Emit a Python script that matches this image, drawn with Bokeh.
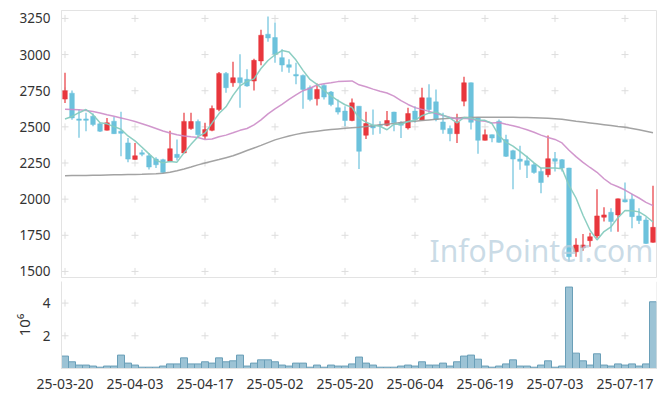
from bokeh.plotting import figure
from bokeh.layouts import column
from bokeh.models import Range1d, FixedTicker, ColumnDataSource, Label, Span
from bokeh.embed import file_html
from bokeh.resources import INLINE

dates = ["25-03-20", "25-03-21", "25-03-24", "25-03-25", "25-03-26", "25-03-27", "25-03-28", "25-03-31",
         "25-04-01", "25-04-02", "25-04-03", "25-04-04", "25-04-07", "25-04-08", "25-04-09", "25-04-10",
         "25-04-11", "25-04-14", "25-04-15", "25-04-16", "25-04-17", "25-04-18", "25-04-21", "25-04-22",
         "25-04-23", "25-04-24", "25-04-25", "25-04-28", "25-04-29", "25-04-30", "25-05-02", "25-05-07",
         "25-05-08", "25-05-09", "25-05-12", "25-05-13", "25-05-14", "25-05-15", "25-05-16", "25-05-19",
         "25-05-20", "25-05-21", "25-05-22", "25-05-23", "25-05-26", "25-05-27", "25-05-28", "25-05-29",
         "25-05-30", "25-06-02", "25-06-04", "25-06-05", "25-06-09", "25-06-10", "25-06-11", "25-06-12",
         "25-06-13", "25-06-16", "25-06-17", "25-06-18", "25-06-19", "25-06-20", "25-06-23", "25-06-24",
         "25-06-25", "25-06-26", "25-06-27", "25-06-30", "25-07-01", "25-07-02", "25-07-03", "25-07-04",
         "25-07-07", "25-07-08", "25-07-09", "25-07-10", "25-07-11", "25-07-14", "25-07-15", "25-07-16",
         "25-07-17", "25-07-18", "25-07-21", "25-07-22", "25-07-23"]

opens = [2692, 2733, 2555, 2555, 2574, 2521, 2477, 2539, 2470, 2389,
         2275, 2321, 2300, 2277, 2273, 2261, 2310, 2320, 2488, 2537,
         2435, 2476, 2620, 2870, 2805, 2840, 2829, 2817, 2956, 3141,
         3118, 2979, 2930, 2863, 2856, 2771, 2694, 2787, 2741, 2632,
         2609, 2544, 2643, 2442, 2511, 2512, 2511, 2602, 2528, 2493,
         2609, 2546, 2701, 2673, 2534, 2488, 2453, 2678, 2805, 2562,
         2407, 2446, 2539, 2412, 2335, 2277, 2266, 2238, 2192, 2169,
         2280, 2273, 2215, 1636, 1664, 1713, 1745, 1875, 1909, 1891,
         1995, 2000, 1884, 1856, 1701]
highs = [2875, 2752, 2620, 2597, 2592, 2530, 2562, 2569, 2604, 2423,
         2389, 2342, 2320, 2290, 2280, 2474, 2412, 2597, 2597, 2551,
         2528, 2648, 2880, 2880, 2950, 3002, 2898, 2972, 3171, 3264,
         3222, 3037, 2967, 2944, 2862, 2787, 2800, 2794, 2748, 2690,
         2643, 2697, 2645, 2604, 2620, 2539, 2609, 2604, 2539, 2632,
         2643, 2771, 2794, 2759, 2597, 2509, 2590, 2847, 2807, 2565,
         2481, 2448, 2551, 2446, 2342, 2370, 2301, 2250, 2215, 2440,
         2326, 2278, 2218, 1729, 1759, 1768, 2069, 1944, 1937, 2004,
         2115, 2037, 1937, 1875, 2092]
lows = [2665, 2550, 2425, 2470, 2505, 2465, 2475, 2450, 2296, 2255,
        2273, 2296, 2205, 2215, 2180, 2258, 2268, 2318, 2480, 2423,
        2416, 2470, 2608, 2736, 2778, 2632, 2778, 2752, 2926, 3088,
        2944, 2882, 2875, 2794, 2625, 2678, 2648, 2690, 2643, 2585,
        2504, 2539, 2208, 2416, 2446, 2453, 2504, 2470, 2423, 2481,
        2528, 2544, 2597, 2539, 2453, 2400, 2389, 2643, 2481, 2314,
        2405, 2393, 2390, 2292, 2069, 2203, 2146, 2176, 2041, 2152,
        2192, 2192, 1567, 1602, 1643, 1671, 1729, 1845, 1775, 1775,
        1979, 1798, 1828, 1690, 1699]
closes = [2750, 2562, 2545, 2545, 2516, 2470, 2528, 2453, 2455, 2277,
          2300, 2310, 2222, 2238, 2185, 2349, 2288, 2538, 2537, 2446,
          2481, 2627, 2870, 2771, 2840, 2805, 2783, 2960, 3134, 3115,
          3002, 2928, 2912, 2852, 2759, 2690, 2759, 2706, 2655, 2602,
          2544, 2666, 2331, 2523, 2493, 2508, 2544, 2528, 2511, 2592,
          2551, 2701, 2620, 2551, 2481, 2453, 2534, 2805, 2532, 2407,
          2446, 2423, 2393, 2296, 2277, 2262, 2234, 2185, 2115, 2280,
          2262, 2215, 1602, 1683, 1683, 1740, 1884, 1891, 1845, 2002,
          1981, 1879, 1852, 1694, 1805]
ma5 = [2555, 2572, 2598, 2620, 2584, 2528, 2521, 2502, 2484, 2437,
       2403, 2359, 2313, 2269, 2251, 2261, 2256, 2320, 2379, 2432,
       2458, 2526, 2592, 2639, 2718, 2783, 2814, 2832, 2904, 2959,
       2999, 3028, 3018, 2962, 2891, 2828, 2794, 2753, 2714, 2682,
       2653, 2635, 2560, 2533, 2511, 2504, 2480, 2519, 2517, 2537,
       2545, 2577, 2595, 2603, 2581, 2561, 2528, 2565, 2561, 2546,
       2545, 2523, 2440, 2393, 2367, 2330, 2292, 2251, 2215, 2215,
       2215, 2211, 2095, 2008, 1889, 1785, 1718, 1776, 1809, 1872,
       1921, 1920, 1912, 1882, 1842]
ma20 = [2622, 2620, 2618, 2614, 2606, 2596, 2584, 2573, 2562, 2550,
        2537, 2522, 2506, 2489, 2472, 2457, 2445, 2437, 2431, 2426,
        2412, 2416, 2432, 2443, 2459, 2476, 2489, 2514, 2548, 2590,
        2625, 2656, 2690, 2721, 2750, 2767, 2790, 2799, 2805, 2813,
        2816, 2818, 2791, 2778, 2761, 2746, 2734, 2713, 2681, 2655,
        2633, 2621, 2607, 2592, 2578, 2566, 2555, 2560, 2554, 2544,
        2539, 2527, 2530, 2518, 2508, 2495, 2480, 2463, 2443, 2427,
        2413, 2389, 2338, 2294, 2254, 2219, 2186, 2141, 2106, 2086,
        2063, 2035, 2008, 1978, 1955]
ma60 = [2162, 2163, 2163, 2164, 2165, 2166, 2167, 2168, 2169, 2170,
        2171, 2172, 2174, 2176, 2179, 2186, 2197, 2209, 2222, 2237,
        2250, 2262, 2274, 2287, 2300, 2318, 2336, 2354, 2372, 2391,
        2410, 2424, 2437, 2448, 2458, 2464, 2470, 2476, 2482, 2486,
        2490, 2494, 2497, 2503, 2508, 2514, 2519, 2524, 2530, 2535,
        2539, 2544, 2548, 2552, 2556, 2559, 2562, 2564, 2565, 2566,
        2567, 2567, 2567, 2566, 2566, 2565, 2564, 2563, 2562, 2560,
        2557, 2553, 2546, 2539, 2533, 2527, 2521, 2515, 2509, 2503,
        2498, 2489, 2480, 2470, 2460]
volume = [760000, 410000, 210000, 210000, 150000, 80000, 150000, 150000, 820000, 330000,
          210000, 80000, 80000, 80000, 150000, 280000, 280000, 650000, 280000, 280000,
          410000, 330000, 650000, 410000, 470000, 820000, 150000, 330000, 530000, 530000,
          410000, 210000, 150000, 330000, 330000, 80000, 210000, 80000, 210000, 150000,
          150000, 280000, 700000, 330000, 210000, 80000, 80000, 80000, 150000, 210000,
          150000, 410000, 210000, 210000, 330000, 150000, 410000, 760000, 820000, 570000,
          150000, 80000, 150000, 280000, 530000, 150000, 150000, 80000, 210000, 470000,
          80000, 150000, 4980000, 940000, 470000, 210000, 900000, 210000, 150000, 280000,
          210000, 280000, 150000, 280000, 4080000]

price_ticks = [1500, 1750, 2000, 2250, 2500, 2750, 3000, 3250]
vol_ticks = [2, 4]
date_tick_step = 10

FONT = "Noto Sans"
UP = "#e8373d"
DOWN = "#6cc2dc"
AXIS_C = "#e3e3e3"
LABEL_C = "#333333"

n = len(dates)
xs = list(range(n))
src = ColumnDataSource(dict(
    x=xs, o=opens, h=highs, l=lows, c=closes,
    top=[max(o, c) for o, c in zip(opens, closes)],
    bot=[min(o, c) for o, c in zip(opens, closes)],
    color=[UP if c >= o else DOWN for o, c in zip(opens, closes)],
    vol=[v / 1e6 for v in volume],
    ma5=ma5, ma20=ma20, ma60=ma60,
))

x_ticks = list(range(0, n, date_tick_step))
xr = Range1d(-0.5, n - 0.5)


def style_axes(fig):
    for ax in fig.axis:
        ax.axis_line_color = AXIS_C
        ax.major_tick_line_color = None
        ax.minor_tick_line_color = None
        ax.major_label_text_font = FONT
        ax.major_label_text_font_size = "13.5px"
        ax.major_label_text_color = LABEL_C
        ax.major_label_standoff = 5
    fig.grid.visible = False
    fig.background_fill_color = "white"
    fig.border_fill_color = "white"


# ---- price panel ----
p = figure(width=657, height=281, x_range=xr, y_range=Range1d(1458, 3305),
           x_axis_location=None, output_backend="svg", toolbar_location=None,
           min_border_left=61, min_border_right=1, min_border_top=10, min_border_bottom=4)
style_axes(p)
p.outline_line_color = AXIS_C
p.yaxis.ticker = FixedTicker(ticks=price_ticks)

gx = [t for t in x_ticks for _ in price_ticks]
gy = [y for _ in x_ticks for y in price_ticks]
p.scatter(gx, gy, marker="cross", size=7, line_color="#dddddd", line_width=1)

p.segment(x0="x", y0="h", x1="x", y1="l", line_color="color", line_width=1.2, source=src)
p.vbar(x="x", width=0.66, top="top", bottom="bot", fill_color="color", line_color="color",
       line_width=0.5, source=src)

p.line("x", "ma60", line_color="#999999", line_width=1.5, line_alpha=0.9, source=src)
p.line("x", "ma20", line_color="#cc8cc8", line_width=1.5, line_alpha=0.9, source=src)
p.line("x", "ma5", line_color="#86cbbf", line_width=1.5, line_alpha=0.95, source=src)

wm = Label(x=368, y=7, x_units="screen", y_units="screen", text="InfoPointer.com",
           text_font=FONT, text_font_size="30px", text_color="#b9d0de", text_alpha=0.75,
           text_baseline="bottom", text_align="left")
p.add_layout(wm)

# ---- volume panel ----
v = figure(width=657, height=115, x_range=xr, y_range=Range1d(0, 5.32),
           output_backend="svg", toolbar_location=None,
           min_border_left=61, min_border_right=1, min_border_top=0, min_border_bottom=28)
style_axes(v)
v.outline_line_color = None
v.add_layout(Span(location=n - 0.5, dimension="height", line_color=AXIS_C, line_width=1))
v.yaxis.ticker = FixedTicker(ticks=vol_ticks)
v.xaxis.ticker = FixedTicker(ticks=x_ticks)
v.xaxis.major_label_overrides = {i: dates[i] for i in x_ticks}
v.xaxis.major_label_standoff = 4
v.xaxis.major_label_text_font_size = "14px"
v.yaxis.axis_label = "10\u2076"
v.yaxis.axis_label_text_font = FONT
v.yaxis.axis_label_text_font_size = "15px"
v.yaxis.axis_label_text_font_style = "normal"
v.yaxis.axis_label_text_color = LABEL_C
v.yaxis.axis_label_standoff = 6

vgx = [t for t in x_ticks for _ in vol_ticks]
vgy = [y for _ in x_ticks for y in vol_ticks]
v.scatter(vgx, vgy, marker="cross", size=7, line_color="#dddddd", line_width=1)

v.vbar(x="x", width=1.0, top="vol", bottom=0, fill_color="#9cc3d5", line_color="#6a9fb8",
       line_width=1, source=src)

layout = column(p, v, spacing=0)
open("out.html", "w").write(file_html(layout, INLINE))
